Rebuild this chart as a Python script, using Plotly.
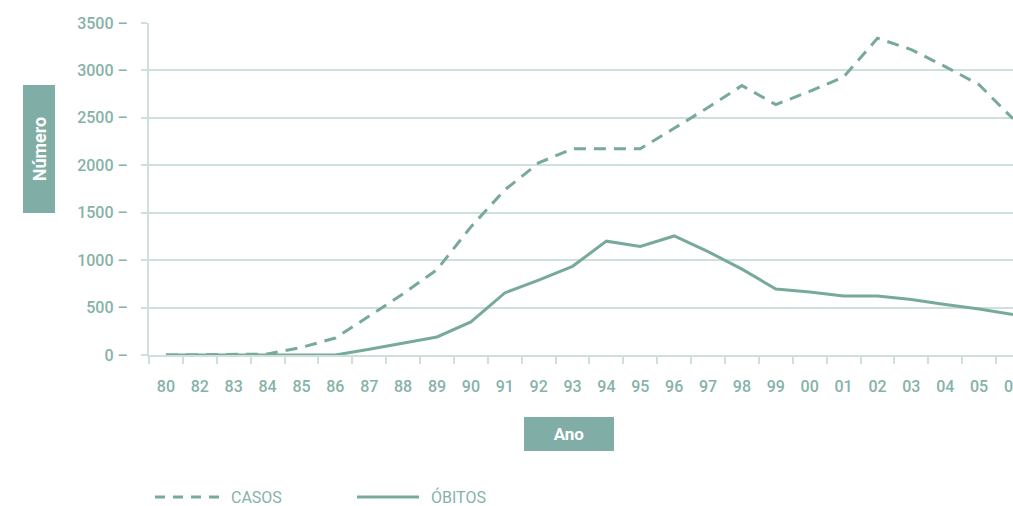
import plotly.graph_objects as go

anos = ["80", "82", "83", "84", "85", "86", "87", "88", "89", "90", "91", "92", "93",
        "94", "95", "96", "97", "98", "99", "00", "01", "02", "03", "04", "05", "06"]
casos = [0, 2, 5, 10, 80, 179, 410, 645, 900, 1350, 1740, 2025, 2175,
         2175, 2175, 2390, 2610, 2840, 2640, 2780, 2930, 3340, 3220, 3040, 2850, 2490]
obitos = [0, 0, 0, 0, 0, 0, 60, 125, 190, 348, 654, 790, 935,
          1200, 1145, 1255, 1090, 905, 696, 665, 622, 622, 585, 533, 485, 428]
y_ticks = [0, 500, 1000, 1500, 2000, 2500, 3000, 3500]

LINE = "#78a99d"
TEXT = "#86b2a8"
GRID = "#cfe0dc"
BOX = "#80aea6"
FONT = "Roboto"

W, H = 1013, 506
L, T, R = 149, 23, 0
B = H - 355
PW, PH = W - L - R, H - T - B


def px_x(p):
    return (p - L) / PW


def px_y(p):
    return (H - B - p) / PH


fig = go.Figure()
fig.add_trace(go.Scatter(x=anos, y=casos, mode="lines", name="CASOS",
                         line=dict(color=LINE, width=3, dash="12px,8px"),
                         showlegend=False, cliponaxis=True))
fig.add_trace(go.Scatter(x=anos, y=obitos, mode="lines", name="ÓBITOS",
                         line=dict(color=LINE, width=3),
                         showlegend=False, cliponaxis=True))

fig.update_layout(
    width=W, height=H,
    margin=dict(l=L, r=R, t=T, b=B, autoexpand=False),
    paper_bgcolor="white", plot_bgcolor="white",
    font=dict(family=FONT, color=TEXT, size=16),
    showlegend=False,
)
fig.update_xaxes(
    type="category", categoryorder="array", categoryarray=anos,
    range=[-0.5, len(anos) - 1],
    showgrid=False, zeroline=False,
    showline=True, linecolor=GRID, linewidth=2,
    ticks="outside", tickson="boundaries", ticklen=7, tickwidth=2, tickcolor=GRID,
    tickfont=dict(family=FONT, size=16, color=TEXT, weight=500),
    ticklabelstandoff=16, automargin=False,
)
fig.update_yaxes(
    range=[0, 3500], tickvals=y_ticks, ticktext=[f"{v} –" for v in y_ticks],
    showgrid=True, gridcolor=GRID, gridwidth=2,
    zeroline=False,
    showline=True, linecolor=GRID, linewidth=2,
    ticks="outside", ticklen=6, tickwidth=2, tickcolor=GRID,
    tickfont=dict(family=FONT, size=16, color=TEXT, weight=500),
    ticklabelstandoff=10, automargin=False,
)

# axis title boxes
fig.add_annotation(xref="paper", yref="paper", x=px_x(39), y=px_y(149),
                   xanchor="center", yanchor="middle", text="<b>Número</b>",
                   textangle=-90, width=128, height=32, bgcolor=BOX,
                   borderpad=0, borderwidth=0, showarrow=False,
                   font=dict(family=FONT, size=18, color="white"))
fig.add_annotation(xref="paper", yref="paper", x=px_x(569), y=px_y(434),
                   xanchor="center", yanchor="middle", text="<b>Ano</b>",
                   width=90, height=34, bgcolor=BOX,
                   borderpad=0, borderwidth=0, showarrow=False,
                   font=dict(family=FONT, size=17, color="white"))

# manual legend
fig.add_shape(type="line", xref="paper", yref="paper",
              x0=px_x(155), x1=px_x(219), y0=px_y(497), y1=px_y(497),
              line=dict(color=LINE, width=3, dash="10px,8px"))
fig.add_shape(type="line", xref="paper", yref="paper",
              x0=px_x(357), x1=px_x(419), y0=px_y(497), y1=px_y(497),
              line=dict(color=LINE, width=3))
fig.add_annotation(xref="paper", yref="paper", x=px_x(229), y=px_y(497),
                   xanchor="left", yanchor="middle", text="CASOS",
                   showarrow=False, font=dict(family=FONT, size=16, color=TEXT))
fig.add_annotation(xref="paper", yref="paper", x=px_x(429), y=px_y(497),
                   xanchor="left", yanchor="middle", text="ÓBITOS",
                   showarrow=False, font=dict(family=FONT, size=16, color=TEXT))

fig.write_html(
    "out.html",
    config={"displayModeBar": False},
    post_script="document.body.style.margin='0';document.body.style.overflow='hidden';",
)
